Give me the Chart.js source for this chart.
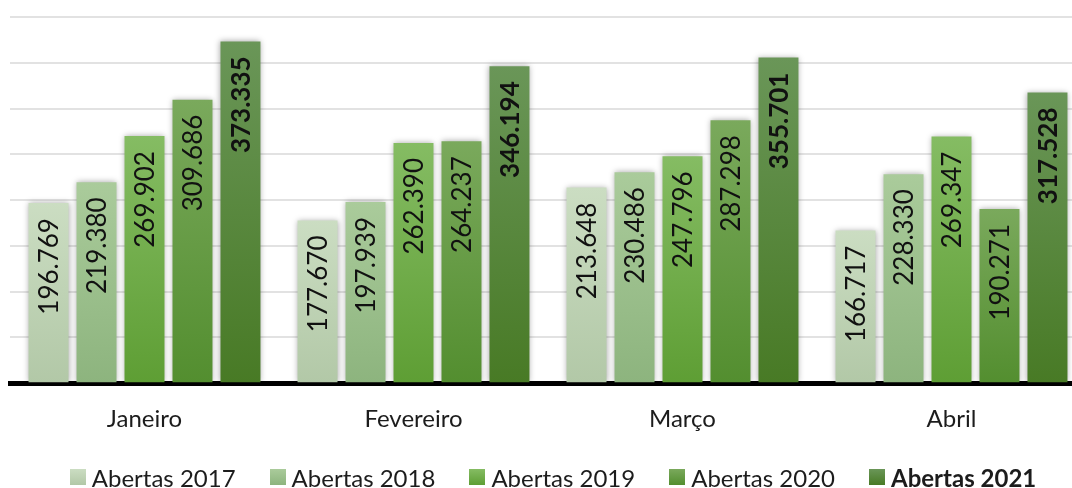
<!DOCTYPE html>
<html>
<head>
<meta charset="utf-8">
<script src="https://cdn.jsdelivr.net/npm/chart.js@4"></script>
<style>
  html, body { margin: 0; padding: 0; background: #fff; overflow: hidden; }
  #wrap { position: relative; width: 1072px; height: 488px; overflow: hidden; }
  #chartBox { position: absolute; left: 0; top: 0; width: 1096px; height: 488px; }
  #legend {
    position: absolute; left: 0; top: 462px; width: 1106px; height: 30px;
    display: flex; justify-content: center; align-items: center;
    font-family: Lato, "Open Sans", sans-serif; font-size: 24px; color: #1c1c1c;
  }
  #legend .item { display: flex; align-items: center; margin: 0 17px; white-space: nowrap; }
  #legend .box { width: 16px; height: 16px; margin-right: 6px; }
</style>
</head>
<body>
<div id="wrap">
  <div id="chartBox"><canvas id="barChart" width="1096" height="488"></canvas></div>
  <div id="legend"></div>
</div>
<script>
// data
const months = ["Janeiro", "Fevereiro", "Março", "Abril"];
const seriesNames = ["Abertas 2017", "Abertas 2018", "Abertas 2019", "Abertas 2020", "Abertas 2021"];
const abertas2017 = [196769, 177670, 213648, 166717];
const abertas2018 = [219380, 197939, 230486, 228330];
const abertas2019 = [269902, 262390, 247796, 269347];
const abertas2020 = [309686, 264237, 287298, 190271];
const abertas2021 = [373335, 346194, 355701, 317528];
const yTicks = { min: 0, max: 400000, step: 50000 };

// gradient colours per series: top, bottom
const topColors = ["#cbddc2", "#aacb9b", "#85bc63", "#7aa95c", "#6a9658"];
const bottomColors = ["#b2c8a7", "#8db47e", "#5e9e34", "#538e2f", "#487a25"];

const allSeries = [abertas2017, abertas2018, abertas2019, abertas2020, abertas2021];

function fmt(v) {
    return String(v).replace(/\B(?=(\d{3})+(?!\d))/g, ".");
}

function barGradient(i) {
    return function (context) {
        const chart = context.chart;
        const y = chart.scales && chart.scales.y;
        if (!chart.chartArea || !y || context.raw === undefined) return bottomColors[i];
        const top = y.getPixelForValue(context.raw);
        const bottom = y.getPixelForValue(0);
        const g = chart.ctx.createLinearGradient(0, top, 0, bottom);
        g.addColorStop(0, topColors[i]);
        g.addColorStop(1, bottomColors[i]);
        return g;
    };
}

const datasets = allSeries.map((values, i) => ({
    label: seriesNames[i],
    data: values,
    backgroundColor: barGradient(i),
    borderWidth: 0,
    categoryPercentage: 0.892,
    barPercentage: 0.833
}));

// shadows behind bars + rotated value labels inside them
const barDecor = {
    id: "barDecor",
    beforeDatasetsDraw(chart) {
        const ctx = chart.ctx;
        ctx.save();
        ctx.shadowColor = "rgba(0,0,0,0.35)";
        ctx.shadowBlur = 6;
        ctx.shadowOffsetX = 0;
        ctx.shadowOffsetY = 0;
    },
    afterDatasetsDraw(chart) {
        const ctx = chart.ctx;
        ctx.restore();
        chart.data.datasets.forEach((ds, i) => {
            const meta = chart.getDatasetMeta(i);
            meta.data.forEach((bar, j) => {
                ctx.save();
                ctx.translate(bar.x, bar.y + 15);
                ctx.rotate(-Math.PI / 2);
                ctx.textAlign = "right";
                ctx.textBaseline = "middle";
                ctx.fillStyle = "#111";
                const bold = i === allSeries.length - 1;
                ctx.font = (bold ? "bold " : "") + "26px Lato, 'Open Sans', sans-serif";
                ctx.fillText(fmt(ds.data[j]), 0, 1);
                ctx.restore();
            });
        });
    }
};

const ctx = document.getElementById("barChart").getContext("2d");
new Chart(ctx, {
    type: "bar",
    data: { labels: months, datasets: datasets },
    options: {
        responsive: false,
        animation: false,
        layout: { padding: { left: 10, right: 10, top: 17, bottom: 32 } },
        plugins: {
            legend: { display: false },
            tooltip: { enabled: false }
        },
        scales: {
            x: {
                grid: { display: false, drawTicks: false },
                border: { display: true, color: "#000", width: 5 },
                ticks: {
                    padding: 22,
                    color: "#1c1c1c",
                    font: { family: "Lato, 'Open Sans', sans-serif", size: 24 }
                }
            },
            y: {
                min: yTicks.min,
                max: yTicks.max,
                ticks: { display: false, stepSize: yTicks.step },
                grid: { color: "#e2e2e2", lineWidth: 2, drawTicks: false },
                border: { display: false }
            }
        }
    },
    plugins: [barDecor]
});

// legend as text
const legend = document.getElementById("legend");
seriesNames.forEach((name, i) => {
    const item = document.createElement("div");
    item.className = "item";
    const box = document.createElement("span");
    box.className = "box";
    box.style.background = "linear-gradient(" + topColors[i] + ", " + bottomColors[i] + ")";
    const txt = document.createElement("span");
    txt.textContent = name;
    if (i === seriesNames.length - 1) txt.style.fontWeight = "bold";
    item.appendChild(box);
    item.appendChild(txt);
    legend.appendChild(item);
});
</script>
</body>
</html>
